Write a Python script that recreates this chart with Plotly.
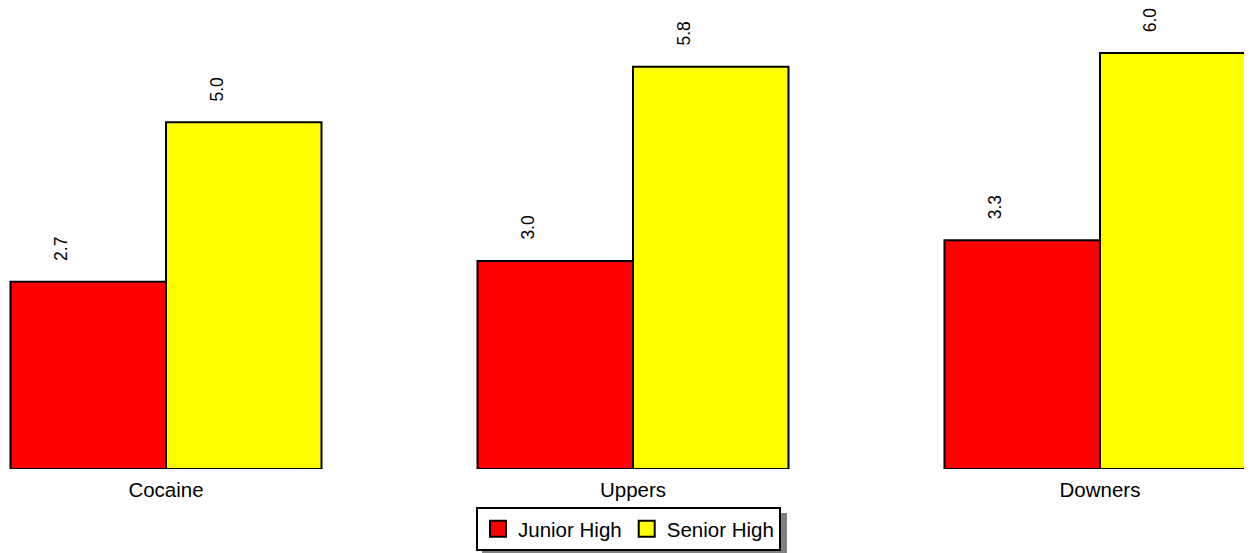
import plotly.graph_objects as go

categories = ["Cocaine", "Uppers", "Downers"]
junior_high = [2.7, 3.0, 3.3]
senior_high = [5.0, 5.8, 6.0]
series_names = ["Junior High", "Senior High"]
series_colors = ["#ff0000", "#ffff00"]
label_fmt = "{:.1f}"

W, H = 1252, 553
OFF = 8  # page body margin in the browser
M_T, M_B = 0, 92
plot_h = H - M_T - M_B
FONT = "Liberation Sans, Arial, Helvetica, sans-serif"

fig = go.Figure()
for name, vals, col in zip(series_names, [junior_high, senior_high], series_colors):
    fig.add_trace(go.Bar(
        name=name, x=categories, y=vals, showlegend=False,
        marker=dict(color=col, line=dict(color="black", width=2)),
    ))
# legend entries with larger square swatches
for name, col in zip(series_names, series_colors):
    fig.add_trace(go.Scatter(
        name=name, x=[None], y=[None], mode="markers",
        marker=dict(symbol="square", size=20, color=col, line=dict(color="black", width=2)),
    ))

annotations = []
for k, vals in enumerate([junior_high, senior_high]):
    off = -1/6 if k == 0 else 1/6
    for i, v in enumerate(vals):
        annotations.append(dict(
            x=i + off, y=v, xref="x", yref="y",
            text=label_fmt.format(v), showarrow=False, textangle=-90,
            xanchor="center", yanchor="bottom", xshift=-27, yshift=19,
            font=dict(family=FONT, size=17.5, color="black"),
        ))

x0 = (OFF - 166) / 467
x1 = (OFF + W - 166) / 467
ytop = (469 - OFF) / 69.35

fig.update_layout(
    width=W, height=H,
    margin=dict(l=0, r=0, t=M_T, b=M_B, pad=0),
    paper_bgcolor="white", plot_bgcolor="white",
    barmode="group", bargap=0.334, bargroupgap=0,
    font=dict(family=FONT, size=20.5, color="black"),
    xaxis=dict(range=[x0, x1], showgrid=False, zeroline=False, showline=False,
               ticks="", tickfont=dict(size=20.5), ticklabelstandoff=6),
    yaxis=dict(range=[0, ytop], visible=False, showgrid=False, zeroline=False),
    showlegend=True,
    legend=dict(orientation="h", x=(628.5 - OFF) / W, xanchor="center",
                y=(plot_h - (507 - OFF)) / plot_h, yanchor="top",
                bgcolor="white", bordercolor="black", borderwidth=2,
                font=dict(size=20.5), traceorder="normal"),
    annotations=annotations,
    shapes=[dict(type="rect", xref="paper", yref="paper",
                 x0=(482 - OFF) / W, x1=(787 - OFF) / W,
                 y0=(plot_h - (570 - OFF)) / plot_h, y1=(plot_h - (513 - OFF)) / plot_h,
                 fillcolor="#808080", line=dict(width=0), layer="below")],
)

fig.write_html("out.html")
